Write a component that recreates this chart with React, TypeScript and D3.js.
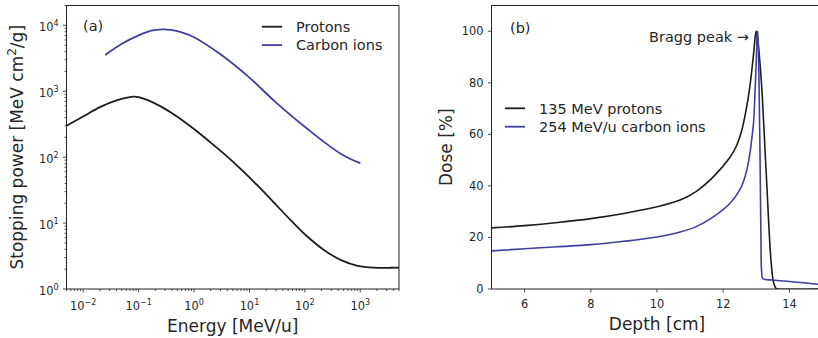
import React from 'react';
import * as d3 from 'd3';

// ---------- Data ----------
const protonEnergy = [0.005, 0.01, 0.02, 0.04, 0.08, 0.1, 0.15, 0.25, 0.5, 1, 2, 3.5, 7, 14, 28, 56, 112, 224, 450, 900, 1800, 3600, 5000];
const protonStopping = [300, 415, 575, 728, 830, 817, 728, 589, 412, 267, 166, 112, 65.8, 37.2, 20.2, 11.0, 6.2, 3.88, 2.74, 2.25, 2.11, 2.1, 2.11];

const carbonEnergy = [0.025, 0.05, 0.1, 0.17, 0.27, 0.38, 0.6, 1, 3, 10, 28, 112, 450, 1000];
const carbonStopping = [3550, 5250, 7030, 8280, 8670, 8510, 7820, 6600, 3630, 1610, 716, 267, 112, 81];

const protonDepth = [5, 6, 7, 8, 9, 10, 10.7, 11.2, 11.7, 12.2, 12.4, 12.55, 12.7, 12.8, 12.9, 12.97, 13.0, 13.05, 13.15, 13.3, 13.45, 13.53, 13.6, 13.65, 15];
const protonDose = [23.7, 24.6, 25.8, 27.3, 29.3, 31.9, 34.5, 38, 43.5, 51, 55.5, 61, 70, 78, 89, 98, 100, 96, 81, 45, 10, 2, 0.2, 0, 0];

const carbonDepth = [5, 6, 7, 8, 9, 10, 10.7, 11.2, 11.7, 12.2, 12.5, 12.62, 12.72, 12.8, 12.87, 12.92, 12.96, 13.0, 13.03, 13.045, 13.08, 13.11, 13.14, 13.16, 13.2, 13.5, 14, 14.5, 15];
const carbonDose = [14.8, 15.6, 16.4, 17.2, 18.5, 20.2, 22.1, 24.3, 28.0, 33.2, 38.5, 42, 46.5, 52, 59, 65, 76, 89, 99, 100, 82, 55, 20, 7, 4.0, 3.5, 2.9, 2.3, 1.7];

const leftXMajorExp = [-2, -1, 0, 1, 2, 3];
const leftYMajorExp = [0, 1, 2, 3, 4];
const rightXTicks = [6, 8, 10, 12, 14];
const rightYTicks = [0, 20, 40, 60, 80, 100];

const seriesLabelsLeft = ['Protons', 'Carbon ions'];
const seriesLabelsRight = ['135 MeV protons', '254 MeV/u carbon ions'];

const BLACK = '#1c1c1c';
const BLUE = '#3f3f9e';
const TEXT = '#262626';
const FONT = 'DejaVu Sans, sans-serif';

const W = 818;
const H = 338;

function sup(e: number) {
  return e < 0 ? '\u2212' + Math.abs(e) : String(e);
}

export default function App() {
  // Left panel scales
  const lx = d3.scaleLog().domain([0.005, 5000]).range([66.5, 399]);
  const ly = d3.scaleLog().domain([1, 2e4]).range([289, 5.5]);
  // Right panel scales
  const rx = d3.scaleLinear().domain([5, 15]).range([491.5, 822.5]);
  const ry = d3.scaleLinear().domain([0, 110]).range([289, 5.5]);

  const lineL = (xs: number[], ys: number[]) =>
    d3
      .line<number>()
      .x((_, i) => lx(xs[i]))
      .y((_, i) => ly(ys[i]))
      .curve(d3.curveCatmullRom.alpha(0.5))(xs) || '';
  const lineR = (xs: number[], ys: number[]) =>
    d3
      .line<number>()
      .x((_, i) => rx(xs[i]))
      .y((_, i) => ry(ys[i]))
      .curve(d3.curveCatmullRom.alpha(0.5))(xs) || '';

  const lxMinor: number[] = [];
  for (let k = -3; k <= 3; k++) {
    for (let m = 2; m <= 9; m++) {
      const v = m * Math.pow(10, k);
      if (v >= 0.005 && v <= 5000) lxMinor.push(v);
    }
  }
  const lyMinor: number[] = [];
  for (let k = 0; k <= 4; k++) {
    for (let m = 2; m <= 9; m++) {
      const v = m * Math.pow(10, k);
      if (v <= 2e4) lyMinor.push(v);
    }
  }

  const [lx0, lx1] = lx.range();
  const [ly0, ly1] = ly.range();
  const [rx0, rx1] = rx.range();
  const [ry0, ry1] = ry.range();

  return (
    <svg width={W} height={H} style={{ position: 'absolute', left: 0, top: 0 }} fontFamily={FONT}>
      <rect width={W} height={H} fill="#fff" />
      <defs>
        <clipPath id="clipL">
          <rect x={lx0} y={ly1} width={lx1 - lx0} height={ly0 - ly1} />
        </clipPath>
        <clipPath id="clipR">
          <rect x={rx0} y={ry1} width={rx1 - rx0} height={ry0 - ry1} />
        </clipPath>
      </defs>

      {/* ---------- Left panel ---------- */}
      <g clipPath="url(#clipL)" fill="none" strokeWidth={1.8} strokeLinejoin="round">
        <path d={lineL(protonEnergy, protonStopping)} stroke={BLACK} />
        <path d={lineL(carbonEnergy, carbonStopping)} stroke={BLUE} />
      </g>
      {/* spines */}
      <g stroke="#222" strokeWidth={1} fill="none">
        <line x1={lx0} x2={lx0} y1={ly1} y2={ly0} />
        <line x1={lx0} x2={lx1} y1={ly1} y2={ly1} />
        <line x1={lx1} x2={lx1} y1={ly1} y2={ly0} />
        <line x1={lx0} x2={lx1} y1={ly0} y2={ly0} />
      </g>
      {/* ticks */}
      <g stroke="#222" strokeWidth={0.8}>
        {leftXMajorExp.map((e) => (
          <line key={'lxM' + e} x1={lx(Math.pow(10, e))} x2={lx(Math.pow(10, e))} y1={ly0} y2={ly0 + 3.5} />
        ))}
        {lxMinor.map((v) => (
          <line key={'lxm' + v} x1={lx(v)} x2={lx(v)} y1={ly0} y2={ly0 + 2} />
        ))}
        {leftYMajorExp.map((e) => (
          <line key={'lyM' + e} x1={lx0 - 3.5} x2={lx0} y1={ly(Math.pow(10, e))} y2={ly(Math.pow(10, e))} />
        ))}
        {lyMinor.map((v) => (
          <line key={'lym' + v} x1={lx0 - 2} x2={lx0} y1={ly(v)} y2={ly(v)} />
        ))}
      </g>
      <g fill={TEXT} fontSize={11.4}>
        {leftXMajorExp.map((e) => (
          <text key={'lxt' + e} x={lx(Math.pow(10, e))} y={310} textAnchor="middle">
            10
            <tspan fontSize={8} dy={-5}>
              {sup(e)}
            </tspan>
          </text>
        ))}
        {leftYMajorExp.map((e) => (
          <text key={'lyt' + e} x={lx0 - 8} y={ly(Math.pow(10, e)) + 5.5} textAnchor="end">
            10
            <tspan fontSize={8} dy={-5}>
              {sup(e)}
            </tspan>
          </text>
        ))}
      </g>
      <text x={(lx0 + lx1) / 2} y={332} textAnchor="middle" fontSize={17} fill={TEXT}>
        Energy [MeV/u]
      </text>
      <text transform={`translate(23,${(ly0 + ly1) / 2}) rotate(-90)`} textAnchor="middle" fontSize={17} fill={TEXT}>
        Stopping power [MeV cm
        <tspan fontSize={12} dy={-7}>
          2
        </tspan>
        <tspan dy={7}>/g]</tspan>
      </text>
      <text x={83} y={30.5} fontSize={14.5} fill={TEXT}>
        (a)
      </text>
      {/* legend left */}
      {seriesLabelsLeft.map((lab, i) => (
        <g key={lab}>
          <line x1={262} x2={282} y1={26.7 + i * 18.4} y2={26.7 + i * 18.4} stroke={i === 0 ? BLACK : BLUE} strokeWidth={1.8} />
          <text x={296} y={32 + i * 18.4} fontSize={14.5} fill={TEXT}>
            {lab}
          </text>
        </g>
      ))}

      {/* ---------- Right panel ---------- */}
      <g clipPath="url(#clipR)" fill="none" strokeWidth={1.6} strokeLinejoin="round">
        <path d={lineR(protonDepth, protonDose)} stroke={BLACK} />
        <path d={lineR(carbonDepth, carbonDose)} stroke={BLUE} />
      </g>
      <g stroke="#222" strokeWidth={1} fill="none">
        <line x1={rx0} x2={rx0} y1={ry1} y2={ry0} />
        <line x1={rx0} x2={rx1} y1={ry1} y2={ry1} />
        <line x1={rx0} x2={rx1} y1={ry0} y2={ry0} />
      </g>
      <g stroke="#222" strokeWidth={0.8}>
        {rightXTicks.map((t) => (
          <line key={'rxM' + t} x1={rx(t)} x2={rx(t)} y1={ry0} y2={ry0 + 3.5} />
        ))}
        {rightYTicks.map((t) => (
          <line key={'ryM' + t} x1={rx0 - 3.5} x2={rx0} y1={ry(t)} y2={ry(t)} />
        ))}
      </g>
      <g fill={TEXT} fontSize={11.4}>
        {rightXTicks.map((t) => (
          <text key={'rxt' + t} x={rx(t)} y={307.5} textAnchor="middle">
            {t}
          </text>
        ))}
        {rightYTicks.map((t) => (
          <text key={'ryt' + t} x={rx0 - 8} y={ry(t) + 4} textAnchor="end">
            {t}
          </text>
        ))}
      </g>
      <text x={657} y={329.5} textAnchor="middle" fontSize={17} fill={TEXT}>
        Depth [cm]
      </text>
      <text transform={`translate(451.5,${(ry0 + ry1) / 2}) rotate(-90)`} textAnchor="middle" fontSize={17} fill={TEXT}>
        Dose [%]
      </text>
      <text x={510} y={33} fontSize={14.5} fill={TEXT}>
        (b)
      </text>
      <text x={749} y={41.5} fontSize={14.5} fill={TEXT} textAnchor="end">
        Bragg peak {'\u2192'}
      </text>
      {seriesLabelsRight.map((lab, i) => (
        <g key={lab}>
          <line x1={505} x2={525} y1={108.3 + i * 18.4} y2={108.3 + i * 18.4} stroke={i === 0 ? BLACK : BLUE} strokeWidth={1.8} />
          <text x={539} y={113.6 + i * 18.4} fontSize={14.5} fill={TEXT}>
            {lab}
          </text>
        </g>
      ))}
    </svg>
  );
}
